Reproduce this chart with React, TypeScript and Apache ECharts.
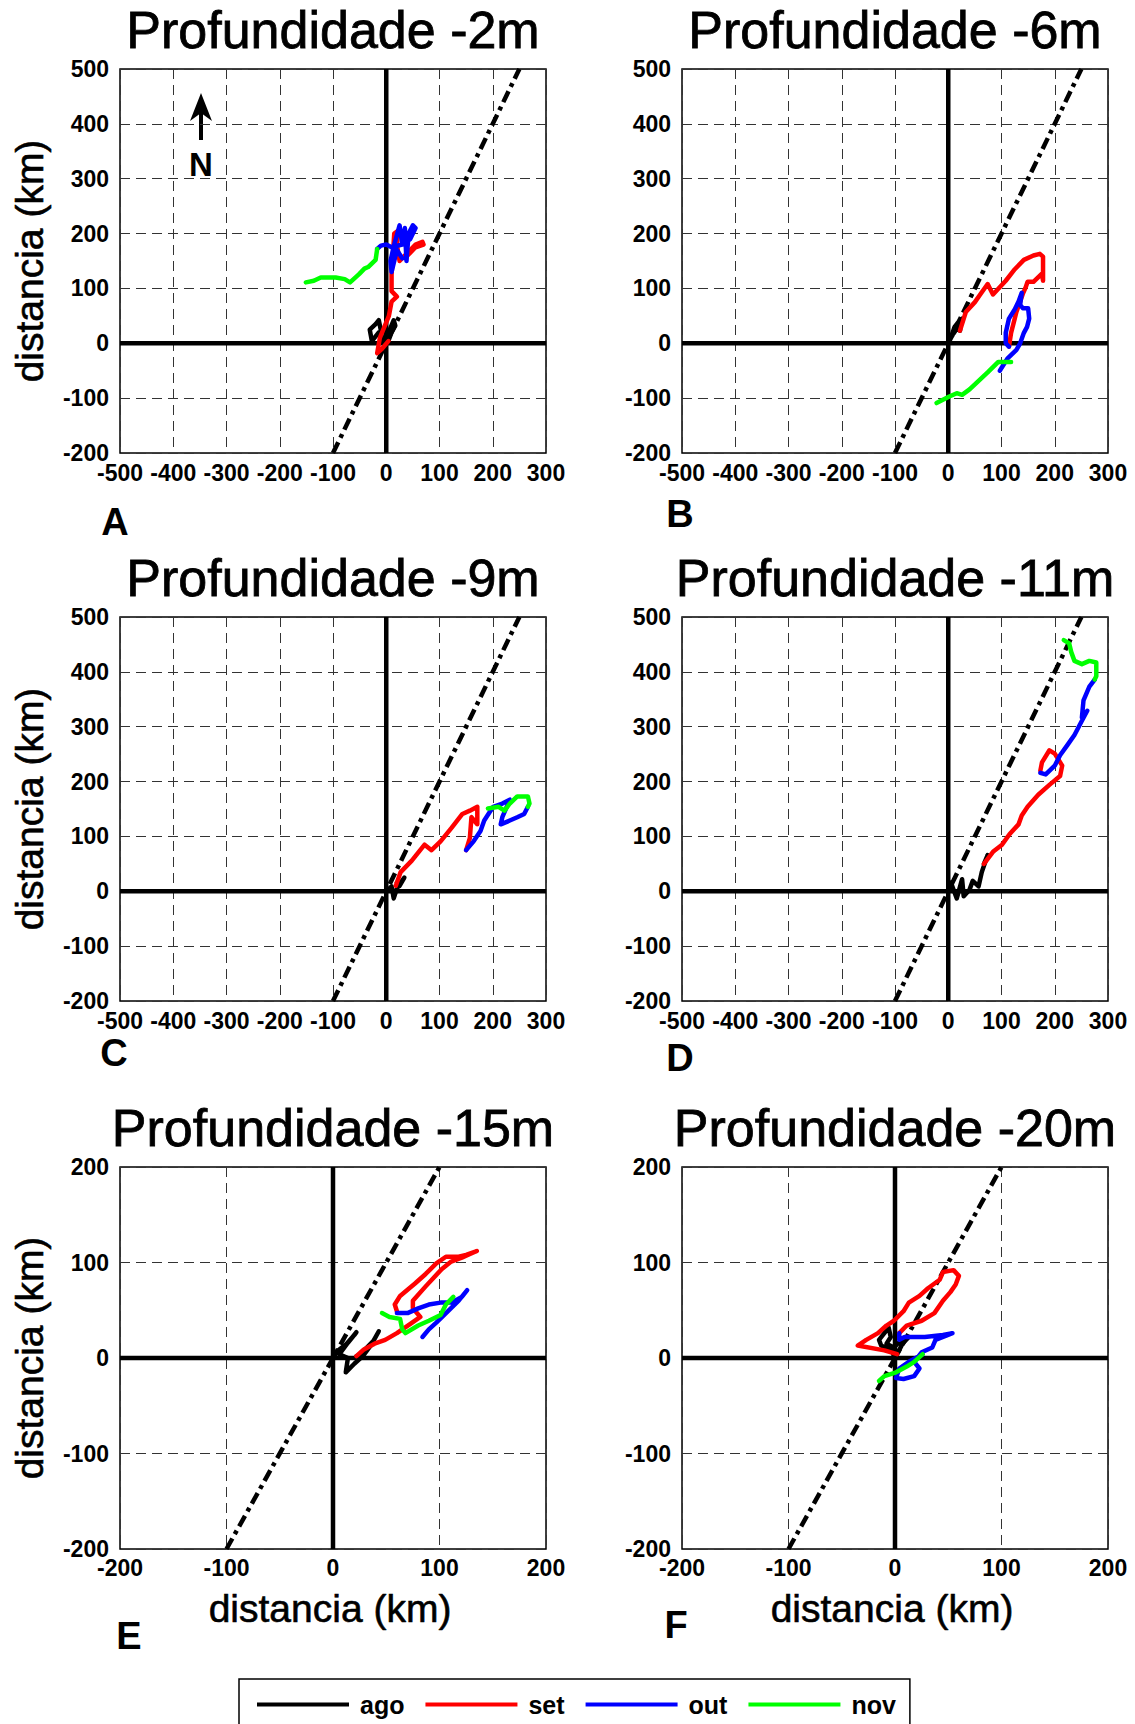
import React, { useEffect, useRef } from "react";
import * as echarts from "echarts";

// ---- tick values ----
const xTicksWide = [-500, -400, -300, -200, -100, 0, 100, 200, 300];
const yTicksWide = [-200, -100, 0, 100, 200, 300, 400, 500];
const xTicksSmall = [-200, -100, 0, 100, 200];
const yTicksSmall = [-200, -100, 0, 100, 200];

// ---- reference dash-dot line (y = 2x) ----
const refLineWide = [[-100, -200], [250, 500]];
const refLineSmall = [[-100, -200], [100, 200]];

// ---- months ----
const months = ["ago", "set", "out", "nov"];
const monthColors = ["#000000", "#ff0000", "#0000ff", "#00ff00"];

// ---- Panel A: -2m ----
const agoA = [[0, 0], [-14, 20], [-27, 4], [-31, 25], [-20, 35], [-14, 42], [-10, 23], [-7, 4], [0, 10], [7, 26], [14, 42], [17, 32], [10, 20], [4, 4]];
const setA = [[4, 4], [-8, -10], [-17, -18], [-12, 10], [5, 50], [10, 76], [20, 85], [10, 95], [10, 125], [15, 200], [22, 205], [20, 180], [25, 150], [45, 170], [55, 180], [68, 185], [70, 180], [55, 175], [40, 160], [30, 155]];
const outA = [[30, 155], [20, 170], [10, 130], [8, 150], [15, 180], [25, 215], [30, 180], [35, 210], [38, 150], [42, 200], [50, 215], [55, 210], [45, 190], [30, 180], [10, 175], [0, 180], [-10, 178], [-17, 172]];
const novA = [[-17, 172], [-20, 152], [-34, 139], [-41, 136], [-51, 126], [-68, 111], [-78, 117], [-95, 120], [-123, 120], [-136, 114], [-151, 111]];

// ---- Panel B: -6m ----
const agoB = [[0, 0], [8, 15], [4, 8], [12, 30], [20, 40], [26, 45], [18, 32], [10, 18], [24, 38], [22, 23]];
const setB = [[22, 23], [33, 57], [50, 75], [60, 89], [74, 108], [84, 89], [108, 114], [125, 135], [142, 152], [160, 160], [172, 163], [178, 158], [178, 114], [176, 127], [160, 112], [149, 112], [145, 101], [140, 90], [128, 57], [118, 19], [114, -6]];
const outB = [[114, -6], [108, 0], [108, 19], [114, 45], [125, 62], [132, 76], [138, 92], [135, 70], [140, 64], [150, 64], [152, 45], [148, 30], [142, 19], [135, 0], [128, -12], [111, -28], [100, -45], [97, -50]];
const novB = [[118, -34], [94, -34], [74, -53], [53, -72], [40, -84], [26, -94], [16, -91], [2, -97], [-22, -109]];

// ---- Panel C: -9m ----
const agoC = [[0, 0], [10, 9], [14, -13], [20, 5], [27, 16], [34, 25], [25, 10], [20, 16]];
const setC = [[20, 16], [18, 10], [27, 35], [48, 56], [72, 85], [85, 75], [102, 91], [123, 116], [143, 141], [157, 147], [171, 154], [171, 122], [160, 135], [157, 97], [150, 75]];
const outC = [[150, 75], [164, 91], [177, 110], [184, 129], [194, 144], [201, 154], [218, 160], [232, 167], [218, 135], [215, 122], [232, 129], [246, 135], [259, 141], [266, 154]];
const novC = [[266, 154], [269, 160], [266, 173], [246, 173], [232, 160], [222, 147], [211, 154], [191, 151]];

// ---- Panel D: -11m ----
const agoD = [[0, 0], [5, 16], [16, -13], [26, 22], [29, -9], [40, 3], [46, 19], [57, 9], [63, 35], [74, 66], [67, 50]];
const setD = [[67, 50], [84, 72], [101, 85], [115, 104], [132, 122], [138, 138], [149, 154], [169, 176], [190, 194], [210, 210], [214, 229], [200, 251], [190, 257], [176, 235], [173, 220]];
const outD = [[173, 216], [183, 213], [200, 229], [210, 248], [224, 267], [237, 285], [251, 311], [261, 329], [251, 317], [254, 348], [265, 373], [275, 386]];
const novD = [[275, 386], [278, 392], [278, 417], [265, 420], [251, 414], [237, 420], [231, 436], [227, 452], [217, 458]];

// ---- Panel E: -15m ----
const agoE = [[0, 0], [5, 8], [12, 14], [20, 24], [22, 27], [14, 16], [6, 4], [14, 0], [12, -15], [20, -6], [28, 2], [36, 14], [43, 28], [38, 18], [25, 3], [22, 2]];
const setE = [[22, 2], [29, 9], [39, 15], [49, 19], [60, 26], [73, 36], [82, 43], [75, 52], [75, 60], [87, 75], [102, 93], [111, 101], [121, 105], [125, 107], [135, 112], [125, 108], [118, 106], [106, 106], [97, 99], [87, 88], [77, 78], [63, 65], [58, 56], [60, 49]];
const outE = [[60, 47], [70, 47], [80, 52], [90, 56], [101, 58], [111, 58], [121, 64], [126, 71], [118, 60], [108, 49], [97, 37], [90, 30], [84, 22]];
const novE = [[113, 64], [106, 56], [101, 45], [90, 39], [80, 34], [68, 26], [65, 30], [63, 41], [53, 43], [46, 47]];

// ---- Panel F: -20m ----
const agoF = [[0, 0], [-3, 7], [-13, 13], [-15, 19], [-10, 26], [-6, 32], [-4, 22], [-8, 15], [-1, 11], [6, 19], [13, 22], [7, 15], [2, 4]];
const setF = [[2, 4], [-10, 8], [-35, 13], [-27, 19], [-16, 26], [-8, 34], [-1, 39], [8, 49], [13, 58], [23, 65], [31, 73], [42, 82], [45, 90], [55, 92], [60, 86], [57, 77], [52, 69], [45, 60], [37, 47], [25, 39], [11, 34], [4, 26]];
const outF = [[4, 26], [4, 19], [9, 22], [28, 22], [45, 24], [54, 26], [38, 19], [35, 11], [25, 6], [18, -4], [23, -11], [18, -19], [8, -22], [1, -21], [4, -11], [13, -4], [26, 4]];
const novF = [[26, 4], [18, -4], [11, -9], [1, -15], [-10, -19], [-15, -24]];

const panelTitles = ["Profundidade -2m", "Profundidade -6m", "Profundidade -9m", "Profundidade -11m", "Profundidade -15m", "Profundidade -20m"];
const panelLetters = ["A", "B", "C", "D", "E", "F"];
const axisName = "distancia (km)";

const FONT = '"Liberation Sans", Arial, Helvetica, sans-serif';

export default function App() {
  const ref = useRef<HTMLDivElement>(null);

  useEffect(() => {
    document.body.style.margin = "0";
    if (!ref.current) return;
    const chart = echarts.init(ref.current, null, { renderer: "svg" });

    const panelData = [
      [agoA, setA, outA, novA],
      [agoB, setB, outB, novB],
      [agoC, setC, outC, novC],
      [agoD, setD, outD, novD],
      [agoE, setE, outE, novE],
      [agoF, setF, outF, novF],
    ];
    const layout = [
      { left: 120, top: 69, width: 426, height: 384, wide: true },
      { left: 682, top: 69, width: 426, height: 384, wide: true },
      { left: 120, top: 617, width: 426, height: 384, wide: true },
      { left: 682, top: 617, width: 426, height: 384, wide: true },
      { left: 120, top: 1167, width: 426, height: 382, wide: false },
      { left: 682, top: 1167, width: 426, height: 382, wide: false },
    ];
    const letterPos = [
      [115, 522], [680, 514], [114, 1053], [680, 1058], [129, 1636], [676, 1625],
    ];

    const grids: any[] = [];
    const xAxes: any[] = [];
    const yAxes: any[] = [];
    const series: any[] = [];
    const graphics: any[] = [];

    layout.forEach((L, i) => {
      const xt = L.wide ? xTicksWide : xTicksSmall;
      const yt = L.wide ? yTicksWide : yTicksSmall;
      const xmin = xt[0], xmax = xt[xt.length - 1];
      const ymin = yt[0], ymax = yt[yt.length - 1];
      grids.push({
        left: L.left, top: L.top, width: L.width, height: L.height,
        show: true, borderColor: "#000", borderWidth: 1.5, backgroundColor: "#fff",
      });
      const common = {
        gridIndex: i,
        type: "value",
        interval: 100,
        axisTick: { show: false },
        axisLine: { show: false },
        splitLine: { show: true, lineStyle: { color: "#333", width: 1, type: [10, 6] } },
      };
      xAxes.push({
        ...common, min: xmin, max: xmax,
        axisLabel: { margin: L.wide ? 8 : 7, color: "#000", fontSize: 23, fontWeight: "bold", fontFamily: FONT },
      });
      yAxes.push({
        ...common, min: ymin, max: ymax,
        axisLabel: { margin: 11, color: "#000", fontSize: 23, fontWeight: "bold", fontFamily: FONT },
      });

      // zero axes
      series.push({
        type: "line", xAxisIndex: i, yAxisIndex: i, silent: true, symbol: "none",
        data: [[0, ymin], [0, ymax]], lineStyle: { color: "#000", width: 4.5 }, z: 3,
      });
      series.push({
        type: "line", xAxisIndex: i, yAxisIndex: i, silent: true, symbol: "none",
        data: [[xmin, 0], [xmax, 0]], lineStyle: { color: "#000", width: 4.5 }, z: 3,
      });
      // dash-dot reference line
      series.push({
        type: "line", xAxisIndex: i, yAxisIndex: i, silent: true, symbol: "none",
        data: L.wide ? refLineWide : refLineSmall,
        lineStyle: { color: "#000", width: 4.5, type: [12, 5, 4, 5] }, z: 4,
      });
      // month trajectories
      panelData[i].forEach((d, m) => {
        series.push({
          name: months[m], type: "line", xAxisIndex: i, yAxisIndex: i,
          symbol: "none", showSymbol: false, silent: true,
          data: d, color: monthColors[m],
          lineStyle: { color: monthColors[m], width: 4.5, cap: "round", join: "round" },
          itemStyle: { color: monthColors[m] }, z: 5,
        });
      });

      const cx = L.left + L.width / 2;
      const cy = L.top + L.height / 2;
      // title
      graphics.push({
        type: "text", x: cx, y: L.top - 39, silent: true,
        style: {
          text: panelTitles[i], fill: "#000", fontSize: 52, fontFamily: FONT, fontWeight: "normal",
          stroke: "#000", lineWidth: 0.8,
          align: "center", verticalAlign: "middle", textAlign: "center", textVerticalAlign: "middle",
        },
      });
      // y-axis name (left column)
      if (i % 2 === 0) {
        graphics.push({
          type: "text", x: 29, y: cy, rotation: Math.PI / 2, silent: true,
          style: {
            text: axisName, fill: "#000", fontSize: 39, fontFamily: FONT,
            stroke: "#000", lineWidth: 0.6,
            align: "center", verticalAlign: "middle", textAlign: "center", textVerticalAlign: "middle",
          },
        });
      }
      // x-axis name (bottom row)
      if (i >= 4) {
        graphics.push({
          type: "text", x: cx - 3, y: 1608, silent: true,
          style: {
            text: axisName, fill: "#000", fontSize: 39, fontFamily: FONT,
            stroke: "#000", lineWidth: 0.6,
            align: "center", verticalAlign: "middle", textAlign: "center", textVerticalAlign: "middle",
          },
        });
      }
      // panel letter
      graphics.push({
        type: "text", x: letterPos[i][0], y: letterPos[i][1], silent: true,
        style: {
          text: panelLetters[i], fill: "#000", fontSize: 38, fontWeight: "bold", fontFamily: FONT,
          align: "center", verticalAlign: "middle", textAlign: "center", textVerticalAlign: "middle",
        },
      });
    });

    // North arrow in panel A
    graphics.push({
      type: "line", silent: true,
      shape: { x1: 201, y1: 110, x2: 201, y2: 140 },
      style: { stroke: "#000", lineWidth: 4 },
    });
    graphics.push({
      type: "polygon", silent: true,
      shape: { points: [[201, 93], [190, 121], [201, 113], [212, 121]] },
      style: { fill: "#000" },
    });
    graphics.push({
      type: "text", x: 201, y: 164, silent: true,
      style: {
        text: "N", fill: "#000", fontSize: 33, fontWeight: "bold", fontFamily: FONT,
        align: "center", verticalAlign: "middle", textAlign: "center", textVerticalAlign: "middle",
      },
    });

    chart.setOption({
      animation: false,
      backgroundColor: "#fff",
      grid: grids,
      xAxis: xAxes,
      yAxis: yAxes,
      series,
      graphic: graphics,
      legend: {
        data: months,
        left: 239, top: 1679,
        icon: "rect", itemWidth: 92, itemHeight: 4, itemGap: 21,
        padding: [13, 14, 40, 18],
        borderColor: "#000", borderWidth: 1.5,
        selectedMode: false,
        textStyle: { fontSize: 25, fontWeight: "bold", color: "#000", fontFamily: FONT, padding: [0, 0, 0, 6] },
      },
    });

    return () => chart.dispose();
  }, []);

  return (
    <div
      ref={ref}
      style={{ position: "absolute", left: 0, top: 0, width: 1135, height: 1724, background: "#fff" }}
    />
  );
}
